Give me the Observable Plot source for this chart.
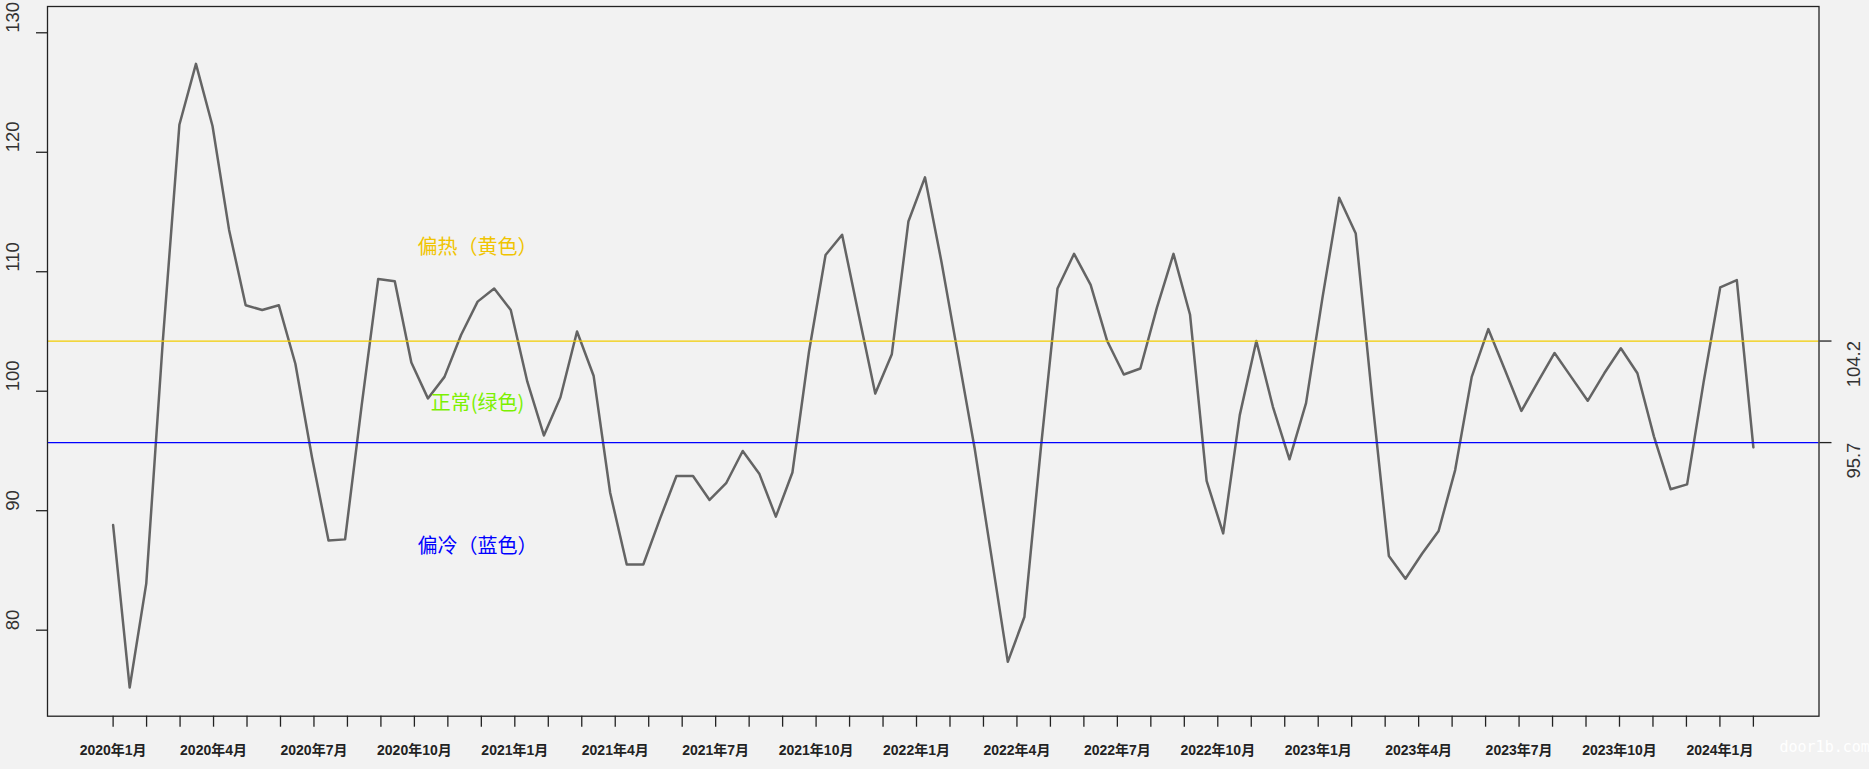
<!DOCTYPE html>
<html>
<head>
<meta charset="utf-8">
<script src="https://cdn.jsdelivr.net/npm/d3@7"></script>
<script src="https://cdn.jsdelivr.net/npm/@observablehq/plot@0.6"></script>
<style>
  html, body { margin: 0; padding: 0; background: #f2f2f2; }
  #chart svg { display: block; }
</style>
</head>
<body>
<div id="chart"></div>
<script>
const values = [
  88.8, 75.2, 83.9, 104.2, 122.3, 127.4, 122.2, 113.5, 107.2, 106.8,
  107.2, 102.3, 94.5, 87.5, 87.6, 98.8, 109.4, 109.2, 102.4, 99.4,
  101.2, 104.7, 107.5, 108.6, 106.8, 100.8, 96.3, 99.5, 105.0, 101.3,
  91.5, 85.5, 85.5, 89.3, 92.9, 92.9, 90.9, 92.3, 95.0, 93.1,
  89.5, 93.2, 103.3, 111.4, 113.1, 106.4, 99.8, 103.1, 114.2, 117.9,
  110.8, 103.0, 95.2, 86.3, 77.35, 81.1, 95.3, 108.6, 111.5, 108.9,
  104.2, 101.4, 101.9, 107.0, 111.5, 106.4, 92.5, 88.1, 98.0, 104.2,
  98.7, 94.3, 99.0, 107.9, 116.2, 113.2, 99.3, 86.2, 84.3, 86.4,
  88.3, 93.4, 101.2, 105.2, 101.8, 98.35, 100.8, 103.2, 101.2, 99.2,
  101.5, 103.6, 101.5, 96.2, 91.8, 92.2, 100.8, 108.7, 109.3, 95.3
];

// Month ticks (50 months, Jan 2020 – Feb 2024); every third is labelled
const months = [
  "2020年1月","2020年2月","2020年3月","2020年4月","2020年5月","2020年6月",
  "2020年7月","2020年8月","2020年9月","2020年10月","2020年11月","2020年12月",
  "2021年1月","2021年2月","2021年3月","2021年4月","2021年5月","2021年6月",
  "2021年7月","2021年8月","2021年9月","2021年10月","2021年11月","2021年12月",
  "2022年1月","2022年2月","2022年3月","2022年4月","2022年5月","2022年6月",
  "2022年7月","2022年8月","2022年9月","2022年10月","2022年11月","2022年12月",
  "2023年1月","2023年2月","2023年3月","2023年4月","2023年5月","2023年6月",
  "2023年7月","2023年8月","2023年9月","2023年10月","2023年11月","2023年12月",
  "2024年1月","2024年2月"
];

// Y-axis ticks
const yTicks = [80, 90, 100, 110, 120, 130];

// Threshold lines
const hotLine = 104.2;
const coldLine = 95.7;
const thresholds = [hotLine, coldLine];

// Annotation labels
const notes = [
  {x: 23, y: 112, text: "偏热（黄色）", color: "#f0c400"},
  {x: 23, y: 99,  text: "正常(绿色)",   color: "#7cf000"},
  {x: 23, y: 87,  text: "偏冷（蓝色）", color: "#0000ff"}
];

const n = values.length;
const series = values.map((v, i) => ({i: i + 1, v}));
const tickPos = months.map((m, k) => ({pos: 1 + k * (n - 1) / (months.length - 1), label: m, k}));
const labelled = tickPos.filter(d => d.k % 3 === 0);

const W = 1869, H = 769;
const font = "'Liberation Sans', Arial, 'Noto Sans CJK SC', sans-serif";

const chart = Plot.plot({
  width: W,
  height: H,
  marginLeft: 47,
  marginRight: 50.5,
  marginTop: 6,
  marginBottom: 53.3,
  style: {background: "#f2f2f2", fontFamily: font, color: "#222"},
  x: {domain: [1 - 0.04 * (n - 1), n + 0.04 * (n - 1)]},
  y: {domain: [72.8, 132.2]},
  marks: [
    Plot.line(series, {x: "i", y: "v", stroke: "#646464", strokeWidth: 2.5}),
    Plot.ruleY([hotLine], {stroke: "#f2cc00", strokeWidth: 1.3}),
    Plot.ruleY([coldLine], {stroke: "#0000ff", strokeWidth: 1.2}),
    Plot.frame({stroke: "#222", strokeWidth: 1.3}),
    Plot.axisX({ticks: tickPos.map(d => d.pos), tickSize: 11, tickFormat: () => "", color: "#222", strokeWidth: 1.3}),
    Plot.text(labelled, {x: "pos", text: "label", frameAnchor: "bottom", dy: 38.5,
      fontSize: 14, fontWeight: "bold", fill: "#222"}),
    Plot.axisY({anchor: "left", ticks: yTicks, tickSize: 11, tickFormat: () => "", color: "#222", strokeWidth: 1.3}),
    Plot.text(yTicks, {y: d => d, text: d => String(d), frameAnchor: "left", dx: -34.7,
      rotate: -90, fontSize: 18.5, fill: "#333"}),
    Plot.axisY({anchor: "right", ticks: thresholds, tickSize: 12, tickFormat: () => "", color: "#222", strokeWidth: 1.3}),
    Plot.text(thresholds, {y: d => d, text: d => d.toFixed(1), frameAnchor: "right", dx: 35.5,
      rotate: -90, fontSize: 18.5, fill: "#333"}),
    Plot.text(notes, {x: "x", y: "y", text: "text", fill: d => d.color, fontSize: 20,
      fontFamily: "'Noto Sans CJK SC', sans-serif"}),
    Plot.text(["door1b.com"], {text: d => d, frameAnchor: "bottom-right", dx: -39.5, dy: 36,
      textAnchor: "start", fill: "#ffffff", fontSize: 15, fontFamily: "'DejaVu Sans Mono', monospace"})
  ]
});

document.getElementById("chart").appendChild(chart);
</script>
</body>
</html>
